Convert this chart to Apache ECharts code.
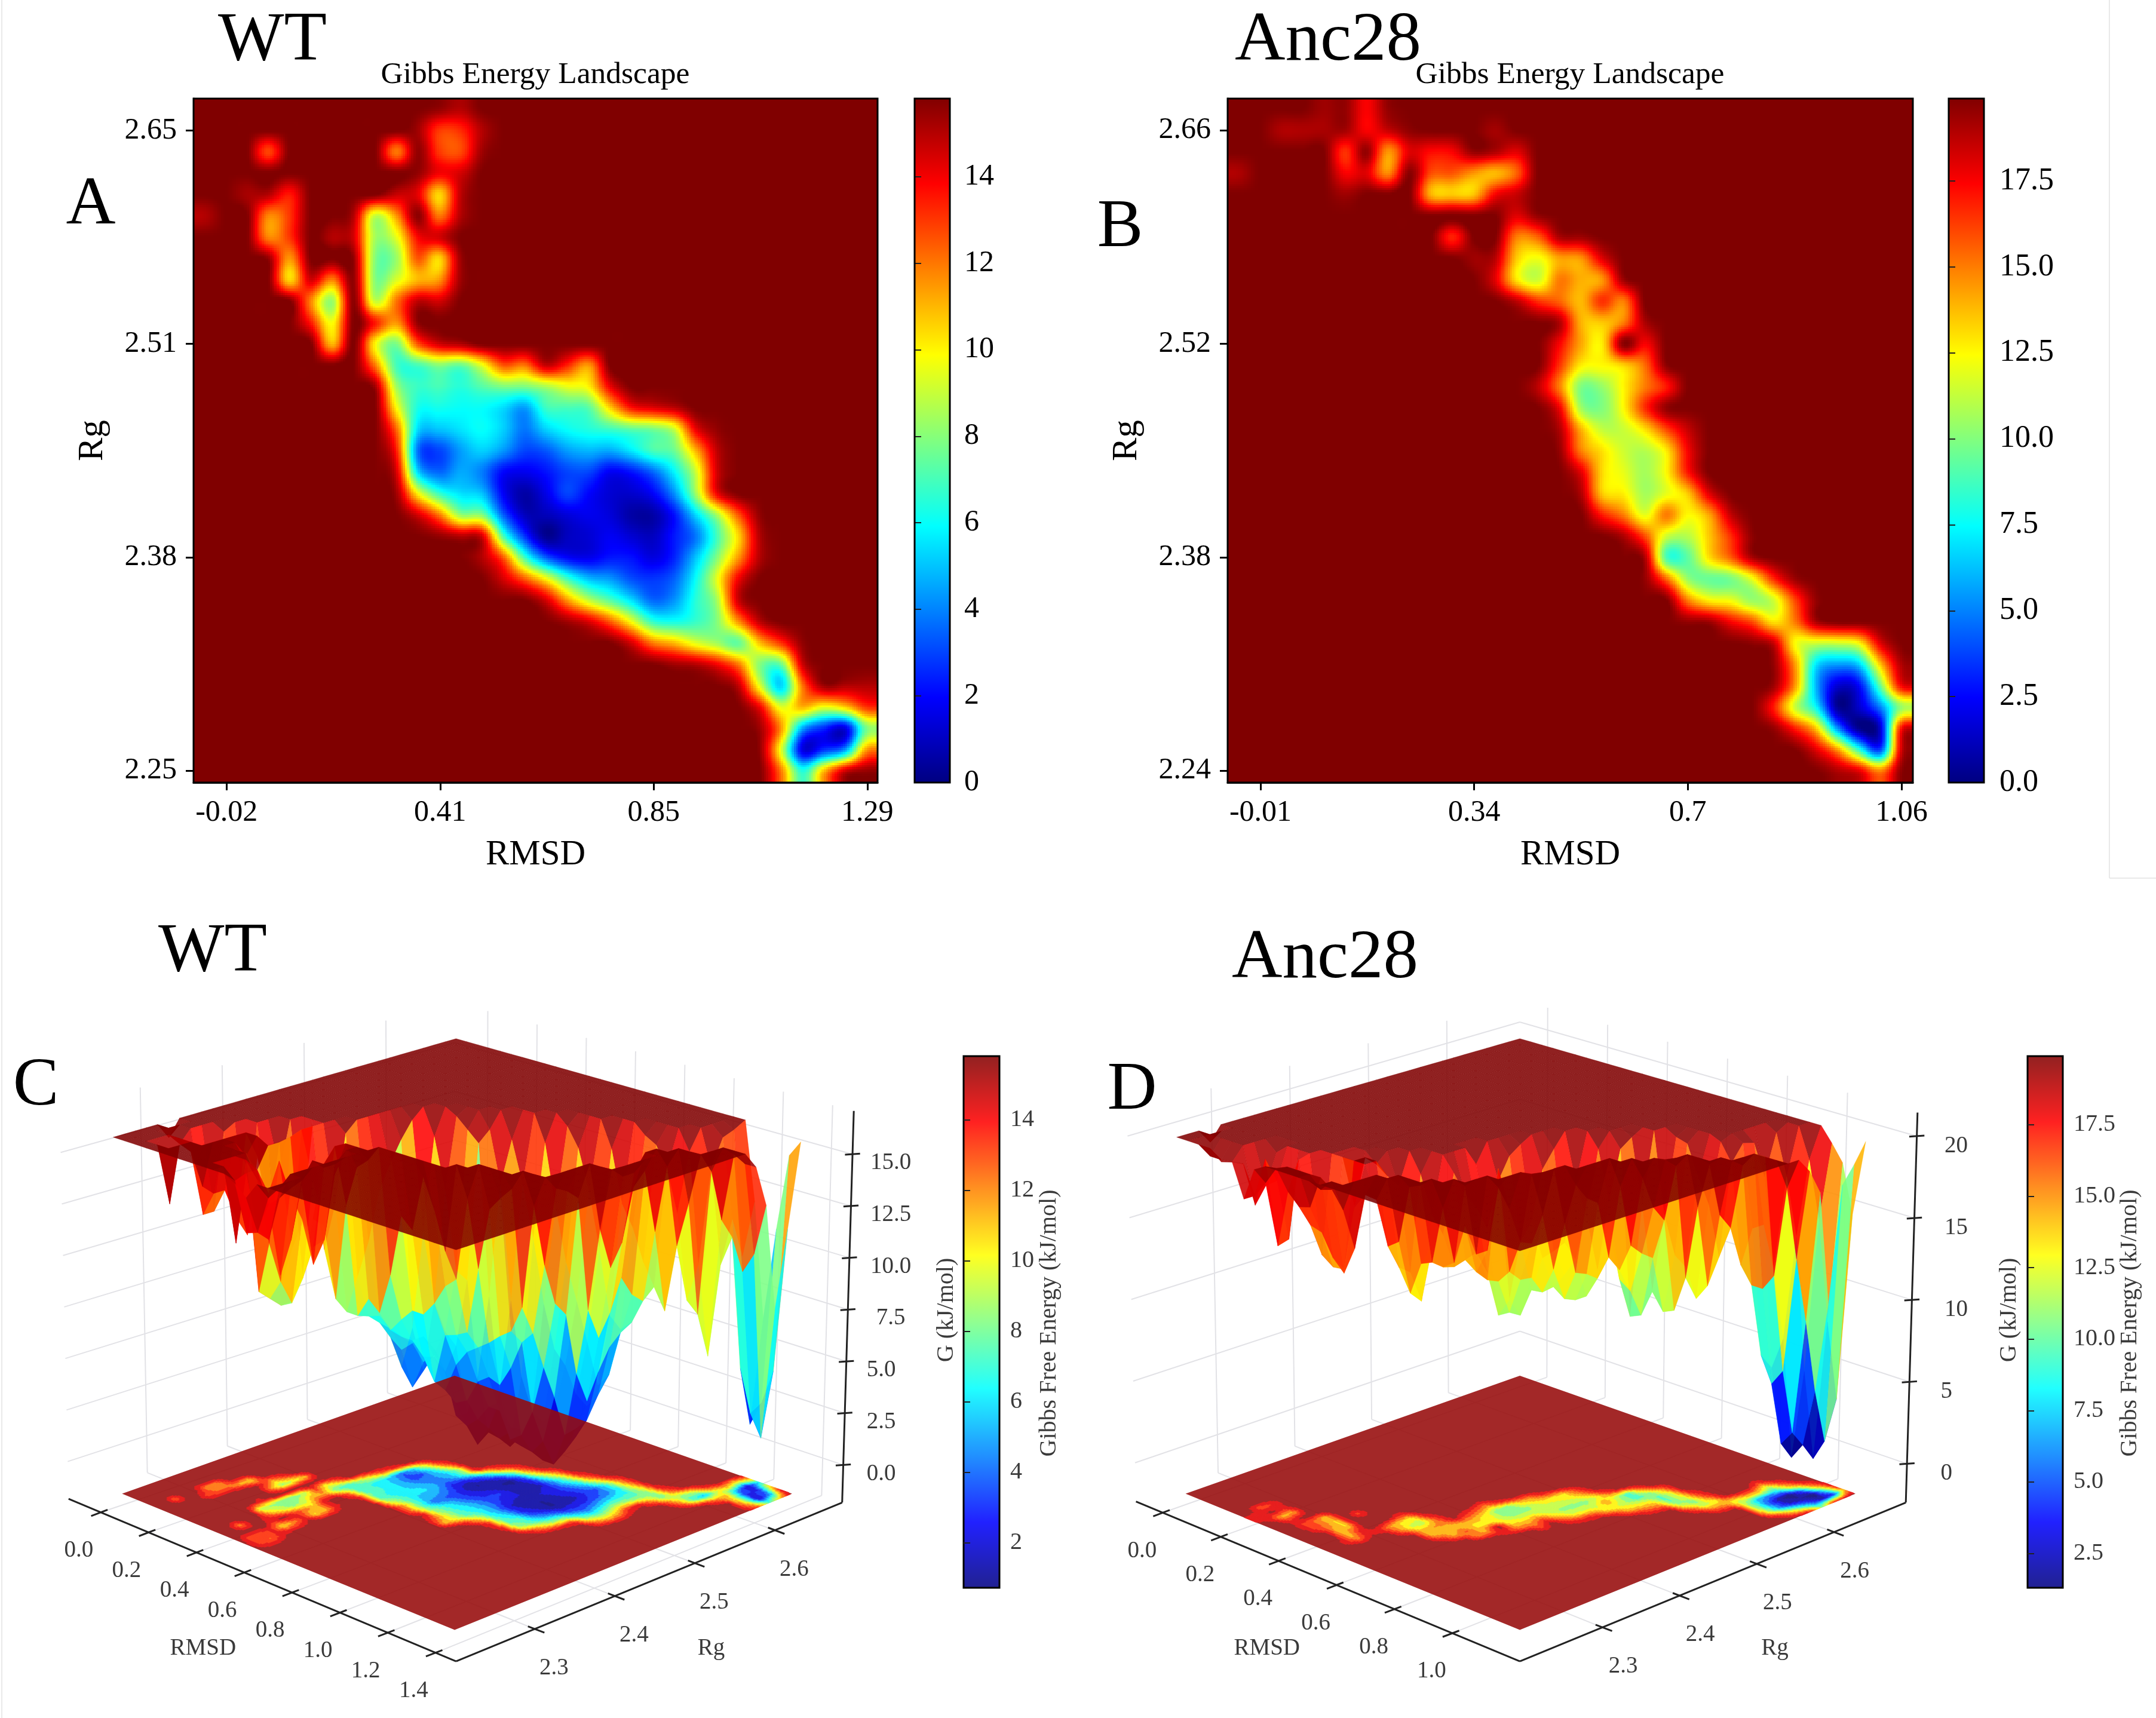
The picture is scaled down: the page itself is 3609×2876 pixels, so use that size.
<!DOCTYPE html>
<html>
<head>
<meta charset="utf-8">
<style>html,body{margin:0;padding:0;background:#fff}#chart{width:3609px;height:2876px}</style>
<script src="https://cdn.jsdelivr.net/npm/echarts@6/dist/echarts.min.js"></script>
</head>
<body>
<div id="chart"></div>
<script>
// Free-energy values per RMSD/Rg bin. Each entry is one Rg row (highest Rg first),
// keyed by RMSD column; bins that are not listed sit at the saturation cap.
const GRID_SIZE = 32;
const wtCap = 15.8;
const ancCap = 19.9;
const wtRows = [
  {11:15.5,12:15},
  {10:15.3,11:13,12:13.2,13:15},
  {3:12.8,9:12,10:15.5,11:13,12:12.7,13:15.3},
  {10:15.5,11:14,12:14.5},
  {2:15.2,3:15,4:13.5,9:14.7,10:14.2,11:10.5,12:14.8},
  {0:15,3:11.8,4:13,7:15,8:9,9:11.5,10:15.6,11:12,12:15},
  {3:11.8,4:13,6:15,7:14.5,8:8.5,9:9.5,10:13.8,11:14.5},
  {3:15.5,4:11.5,7:15.5,8:8,9:8.3,10:12.5,11:10.5,12:15.3},
  {4:10.5,5:14.5,6:11.8,7:15.5,8:8,9:9.3,10:11,11:11.5,12:15.3},
  {5:11.8,6:8.3,7:15.6,8:9,9:12,10:14.8,11:14.5},
  {5:13.5,6:9.8,8:13.5,9:11.5,10:15.5},
  {6:11,8:10,9:7.8,10:12.5,11:14.5,12:15},
  {8:12,9:7,10:7,11:8,12:7.5,13:9.5,14:12.5,15:12,16:14.7,17:13.3,18:11.5},
  {8:15.3,9:8.5,10:6.8,11:7,12:6.5,13:7.2,14:7.8,15:7.8,16:8.5,17:9.5,18:10,19:14},
  {9:10,10:6.3,11:6.2,12:6,13:6,14:5.4,15:4.4,16:6.8,17:7,18:7.3,19:10.5,20:13.5,21:14.2,22:14.8},
  {9:12.3,10:5.4,11:5,12:5.5,13:6,14:5.2,15:3.8,16:5.2,17:6,18:6.4,19:6.8,20:7.3,21:7.7,22:9,23:14,24:15.5},
  {9:13.5,10:3.8,11:3,12:4.4,13:5.2,14:4.3,15:3,16:3.3,17:4.4,18:4.8,19:4.6,20:5.6,21:7,22:7.6,23:11,24:14.8},
  {9:14.5,10:5.5,11:3.6,12:4.6,13:3.9,14:2,15:1.7,16:2.2,17:3,18:3,19:1.8,20:2.2,21:3.5,22:5.8,23:9,24:14.5},
  {9:15.3,10:10,11:6.8,12:5.5,13:5,14:1.9,15:0.6,16:1.6,17:3,18:2,19:1.3,20:1.2,21:1.9,22:4.2,23:8.3,24:14},
  {10:14.5,11:12,12:8.3,13:8,14:3.5,15:1,16:0.9,17:1.4,18:1.7,19:1.4,20:0.6,21:0.6,22:2.2,23:5.3,24:8.5,25:12.5,26:15.5},
  {11:15.5,12:15,13:14.5,14:7.2,15:2.8,16:0.3,17:1,18:1.3,19:1.8,20:1.3,21:1,22:2.3,23:3.8,24:7,25:10.5,26:15},
  {13:15,14:12.5,15:7,16:3.5,17:2,18:1.7,19:2.3,20:2.2,21:1.5,22:2.5,23:5,24:8,25:11.5,26:15},
  {14:14.5,15:12.5,16:10,17:7,18:5,19:4.4,20:3.2,21:2.8,22:3.5,23:6,24:9.5,25:14},
  {16:14.5,17:11.5,18:9,19:7.3,20:5.5,21:3.6,22:4.3,23:6.5,24:8.5,25:14.6},
  {17:15.3,18:14.4,19:12.5,20:9.8,21:6.8,22:6.3,23:6.8,24:8,25:11.5,26:14.8},
  {20:14.5,21:12,22:11,23:9.5,24:8.5,25:7.5,26:10.8,27:13,28:15.5},
  {22:15.3,23:15,24:14,25:12,26:8,27:7.5,28:14.5},
  {25:14.8,26:9.5,27:5.3,28:12,29:15.3,30:15,31:15},
  {26:14,27:9.5,28:11,29:9.5,30:10.5,31:13},
  {26:15.3,27:11.5,28:4.5,29:2.5,30:1.5,31:7.8},
  {26:15.5,27:9.5,28:1.6,29:2.8,30:4.5,31:11.5},
  {27:12,28:6.5,29:11,30:14.7,31:15.5}
];
const ancRows = [
  {4:19.3,5:19.5,6:17.5,7:19.5},
  {2:19,3:19,4:19.1,5:19.2,6:17.5,7:18.5,8:19.6,12:19.2},
  {5:16.5,6:19.5,7:14.5,8:18,9:17.3,10:17.5,11:19.5,12:19,13:18},
  {0:19,5:17.5,6:18,7:14.7,8:19.7,9:16,10:15.8,11:14.5,12:13.8,13:15.5},
  {5:19.3,9:14,10:13.5,11:13.6,12:17.5,13:18.5},
  {13:18,14:19.5},
  {10:16.8,13:15,14:15.5,15:19,16:19.3},
  {11:19.3,12:18.8,13:13.5,14:12.2,15:14.2,16:14.5,17:18},
  {12:18,13:13,14:11.5,15:15,16:14,17:14.5,18:19.3},
  {13:18.7,14:16.5,15:15.5,16:13.8,17:16.5,18:15},
  {15:19,16:14,17:13.5,18:15,19:19},
  {15:17.5,16:14.2,17:12.8,18:19.7,19:17.5},
  {15:16.5,16:12.8,17:12.5,18:13.3,19:15.3,20:19.6},
  {14:18.7,15:15,16:10,17:10.4,18:12.6,19:15,20:17},
  {15:17.7,16:10.7,17:10,18:12.5,19:16.5,20:19.5},
  {15:19,16:14,17:11.3,18:11.4,19:13,20:16,21:18.5},
  {15:19.5,16:15,17:13,18:11.5,19:11,20:12.8,21:17.5},
  {16:18,17:13.2,18:12,19:10.7,20:12.5,21:17},
  {16:19,17:13.5,18:12.7,19:10.7,20:12,21:13.5,22:18},
  {17:17,18:15,19:12,20:15,21:12.5,22:14.2,23:18.5},
  {18:19,19:16,20:11.5,21:11,22:13.5,23:16.5,24:19.6},
  {19:19,20:9,21:9.3,22:13,23:15.5,24:19},
  {19:19.5,20:15.5,21:10.5,22:9.5,23:9.8,24:12,25:16.5,26:19.3},
  {21:15,22:12.7,23:12.2,24:10.5,25:11.5,26:16,27:19.5},
  {21:19.5,22:19.3,23:17.5,24:16,25:13,26:15,27:19},
  {24:19.6,25:18.5,26:12.5,27:11.5,28:11.5,29:12.5,30:18},
  {25:19.5,26:14.5,27:7,28:5.5,29:6.5,30:13.5,31:19},
  {25:19.3,26:14.5,27:6,28:1.6,29:2.5,30:9.5,31:17.5},
  {25:17,26:11.5,27:7.5,28:0.5,29:1.5,30:5,31:10.5},
  {25:19.5,26:17,27:13.5,28:5.5,29:0.4,30:1.7,31:17.5},
  {27:18,28:14.5,29:8.5,30:4,31:18.5},
  {28:19,29:18,30:15,31:19.7}
];

// Axis ticks of the flat maps (tick values are truncated to two decimals when printed)
const wtRmsdTicks = [-0.02, 0.4167, 0.8533, 1.29];
const wtRgTicks = [2.25, 2.3833, 2.5167, 2.65];
const ancRmsdTicks = [-0.01, 0.3467, 0.7033, 1.06];
const ancRgTicks = [2.24, 2.38, 2.52, 2.66];
const wtBarTicks = [0, 2, 4, 6, 8, 10, 12, 14];
const ancBarTicks = [0, 2.5, 5, 7.5, 10, 12.5, 15, 17.5];

// Axis ticks of the perspective views
const wtRmsd3d = [0, 0.2, 0.4, 0.6, 0.8, 1.0, 1.2, 1.4];
const ancRmsd3d = [0, 0.2, 0.4, 0.6, 0.8, 1.0];
const rg3d = [2.3, 2.4, 2.5, 2.6];
const wtG3d = [0, 2.5, 5, 7.5, 10, 12.5, 15];
const ancG3d = [0, 5, 10, 15, 20];
const wtBar3d = [2, 4, 6, 8, 10, 12, 14];
const ancBar3d = [2.5, 5, 7.5, 10, 12.5, 15, 17.5];

const SERIF = '"Liberation Serif","Times New Roman",serif';
const SURFACE_ALPHA = 0.87;

function buildMatrix(rows, cap) {
  return rows.map(function (row) {
    const out = new Array(GRID_SIZE).fill(cap);
    Object.keys(row).forEach(function (c) { out[+c] = row[c]; });
    return out;
  });
}
const wtMatrix = buildMatrix(wtRows, wtCap);
const ancMatrix = buildMatrix(ancRows, ancCap);

// Matplotlib-style jet colormap
function jet(t) {
  t = Math.max(0, Math.min(1, t));
  const ch = function (v) { return Math.round(255 * Math.max(0, Math.min(1, v))); };
  return [
    ch(Math.min(4 * t - 1.5, -4 * t + 4.5)),
    ch(Math.min(4 * t - 0.5, -4 * t + 3.5)),
    ch(Math.min(4 * t + 0.5, -4 * t + 2.5))
  ];
}
function rgb(c) { return 'rgb(' + c[0] + ',' + c[1] + ',' + c[2] + ')'; }
function rgba(c, a) { return 'rgba(' + c[0] + ',' + c[1] + ',' + c[2] + ',' + a + ')'; }
function fade(c, a) {
  return [0, 1, 2].map(function (i) { return Math.round(c[i] * a + 255 * (1 - a)); });
}
function gradient(alpha) {
  const stops = [];
  for (let i = 0; i <= 40; i++) {
    const t = i / 40;
    stops.push({ offset: 1 - t, color: rgb(fade(jet(t), alpha)) });
  }
  return new echarts.graphic.LinearGradient(0, 0, 0, 1, stops.reverse());
}

// Bicubic lookup between bin centres, the way an image is resampled for display
function cubic(a, b, c, d, t) {
  return b + 0.5 * t * (c - a + t * (2 * a - 5 * b + 4 * c - d + t * (3 * (b - c) + d - a)));
}
function at(m, r, c) {
  const R = Math.max(0, Math.min(GRID_SIZE - 1, r));
  const C = Math.max(0, Math.min(GRID_SIZE - 1, c));
  return m[R][C];
}
function bicubic(m, r, c) {
  const r0 = Math.floor(r), c0 = Math.floor(c), tr = r - r0, tc = c - c0;
  const col = [];
  for (let k = -1; k <= 2; k++) {
    col.push(cubic(at(m, r0 + k, c0 - 1), at(m, r0 + k, c0), at(m, r0 + k, c0 + 1), at(m, r0 + k, c0 + 2), tc));
  }
  return cubic(col[0], col[1], col[2], col[3], tr);
}
function bilinear(m, r, c) {
  const r0 = Math.floor(r), c0 = Math.floor(c), tr = r - r0, tc = c - c0;
  return (at(m, r0, c0) * (1 - tc) + at(m, r0, c0 + 1) * tc) * (1 - tr) +
         (at(m, r0 + 1, c0) * (1 - tc) + at(m, r0 + 1, c0 + 1) * tc) * tr;
}
function isFlat(m, cap, r, c, reach) {
  for (let i = -reach; i <= reach; i++) {
    for (let j = -reach; j <= reach; j++) {
      if (at(m, r + i, c + j) < cap) return false;
    }
  }
  return true;
}

// ---- flat energy maps -----------------------------------------------------
function heatSeries(gridIndex, m, cap, xr, yr) {
  const dx = (xr[1] - xr[0]) / GRID_SIZE, dy = (yr[1] - yr[0]) / GRID_SIZE;
  const data = [];
  for (let r = 0; r < GRID_SIZE; r++) {
    for (let c = 0; c < GRID_SIZE; c++) {
      data.push([xr[0] + (c + 0.5) * dx, yr[1] - (r + 0.5) * dy, m[r][c], c, r]);
    }
  }
  const SUB = 10;
  return {
    type: 'custom', xAxisIndex: gridIndex, yAxisIndex: gridIndex, data: data, silent: true,
    animation: false, progressive: 0, encode: { x: 0, y: 1 }, clip: true,
    renderItem: function (params, api) {
      const c = api.value(3), r = api.value(4);
      const tl = api.coord([xr[0] + c * dx, yr[1] - r * dy]);
      const br = api.coord([xr[0] + (c + 1) * dx, yr[1] - (r + 1) * dy]);
      if (isFlat(m, cap, r, c, 2)) {
        return { type: 'rect', shape: { x: Math.floor(tl[0]), y: Math.floor(tl[1]),
          width: Math.ceil(br[0]) - Math.floor(tl[0]), height: Math.ceil(br[1]) - Math.floor(tl[1]) },
          style: { fill: rgb(jet(1)) } };
      }
      const kids = [];
      const w = (br[0] - tl[0]) / SUB, h = (br[1] - tl[1]) / SUB;
      for (let i = 0; i < SUB; i++) {
        for (let j = 0; j < SUB; j++) {
          const v = bicubic(m, r + (i + 0.5) / SUB - 0.5, c + (j + 0.5) / SUB - 0.5);
          const x0 = Math.floor(tl[0] + j * w), y0 = Math.floor(tl[1] + i * h);
          const x1 = Math.ceil(tl[0] + (j + 1) * w), y1 = Math.ceil(tl[1] + (i + 1) * h);
          kids.push({ type: 'rect', shape: { x: x0, y: y0, width: x1 - x0, height: y1 - y0 },
            style: { fill: rgb(jet(v / cap)) } });
        }
      }
      return { type: 'group', children: kids };
    }
  };
}

function truncated(v) { return Math.floor(v * 100 + 1e-6) / 100; }
function tickText(v) { return String(truncated(v)); }
function fixed2(v) { return truncated(v).toFixed(2); }

function axesFor(box, xr, yr, xt, yt) {
  const g = { left: box[0], top: box[1], width: box[2], height: box[3], show: false };
  const lineStyle = { color: '#000', width: 3 };
  const x = {
    type: 'value', min: xr[0], max: xr[1], splitLine: { show: false },
    name: 'RMSD', nameLocation: 'middle', nameGap: 92, nameMoveOverlap: false,
    nameTextStyle: { fontFamily: SERIF, fontSize: 59, color: '#000' },
    axisLine: { show: true, lineStyle: lineStyle, onZero: false },
    axisTick: { show: true, length: 13, lineStyle: lineStyle, customValues: xt },
    axisLabel: { show: true, fontFamily: SERIF, fontSize: 50, color: '#000', margin: 26,
      customValues: xt, formatter: tickText, hideOverlap: false, showMinLabel: true, showMaxLabel: true }
  };
  const y = {
    type: 'value', min: yr[0], max: yr[1], splitLine: { show: false },
    name: 'Rg', nameLocation: 'middle', nameGap: 139, nameMoveOverlap: false,
    nameTextStyle: { fontFamily: SERIF, fontSize: 59, color: '#000' },
    axisLine: { show: true, lineStyle: lineStyle, onZero: false },
    axisTick: { show: true, length: 13, lineStyle: lineStyle, customValues: yt },
    axisLabel: { show: true, fontFamily: SERIF, fontSize: 50, color: '#000', margin: 28, padding: [6, 0, 0, 0],
      customValues: yt, formatter: fixed2, hideOverlap: false, showMinLabel: true, showMaxLabel: true }
  };
  return { grid: g, x: x, y: y };
}

function colorBar(box, lo, hi, ticks, fmt, alpha, fontSize, labelColor, width, margin) {
  return {
    grid: { left: box[0], top: box[1], width: box[2], height: box[3], show: true,
      backgroundColor: gradient(alpha), borderColor: '#000', borderWidth: width },
    x: { type: 'value', min: 0, max: 1, show: false },
    y: { type: 'value', min: lo, max: hi, position: 'right', splitLine: { show: false },
      axisLine: { show: false },
      axisTick: { show: true, length: 11, lineStyle: { color: '#222', width: 2 }, customValues: ticks },
      axisLabel: { show: true, fontFamily: SERIF, fontSize: fontSize, color: labelColor, margin: margin,
        padding: [4, 0, 0, 0], customValues: ticks, formatter: fmt, hideOverlap: false } }
  };
}

// ---- perspective views ----------------------------------------------------
function lerp(a, b, t) { return [a[0] + (b[0] - a[0]) * t, a[1] + (b[1] - a[1]) * t]; }
function quadPoint(q, u, v) {
  return lerp(lerp(q.L, q.B, u), lerp(q.T, q.R, u), v);
}

const viewC = {
  ox: 0, sx: 1800 / 1568, sy: 1376 / 1568, oy: 1500,
  cap: wtCap, m: wtMatrix, barLo: 0.73,
  floorZ: -1.4,
  floor: { L: [178, 1140], B: [663, 1400], T: [663, 915], R: [1155, 1140] },
  top: { L: [165, 460], B: [665, 675], T: [665, 272], R: [1168, 457] },
  boxLow: { L: [100, 1150], B: [665, 1460], T: [663, 905], R: [1228, 1157] },
  boxHigh: { L: [87, 407], T: [663, 202], R: [1245, 410] },
  zToH: function (z) { return 0.096 + z * 0.0529; },
  rmsdFrac: function (x) { return 0.083 + x / 1.4 * 0.864; },
  rgFrac: function (x) { return 0.204 + (x - 2.3) * 2.073; },
  rmsdTicks: wtRmsd3d, zTicks: wtG3d, zFmt: function (v) { return v.toFixed(1); },
  rmsdOff: [-32, 73], rgOff: [28, 75], zLabelX: 1293, zLabelDy: 17,
  rmsdTitle: [296, 1436], rgTitle: [1037, 1436]
};
const viewD = {
  ox: 1800, sx: 1809 / 1568, sy: 1376 / 1568, oy: 1500,
  cap: ancCap, m: ancMatrix, barLo: 1.3,
  floorZ: -1.8,
  floor: { L: [160, 1140], B: [645, 1400], T: [645, 915], R: [1132, 1140] },
  top: { L: [147, 460], B: [645, 677], T: [645, 272], R: [1147, 462] },
  boxLow: { L: [88, 1155], B: [645, 1460], T: [645, 900], R: [1205, 1157] },
  boxHigh: { L: [75, 413], T: [645, 198], R: [1222, 413] },
  zToH: function (z) { return 0.0995 + z * 0.042; },
  rmsdFrac: function (x) { return 0.07 + x * 0.754; },
  rgFrac: function (x) { return 0.214 + (x - 2.3) * 2.0; },
  rmsdTicks: ancRmsd3d, zTicks: ancG3d, zFmt: function (v) { return String(v); },
  rmsdOff: [-30, 73], rgOff: [30, 75], zLabelX: 1272, zLabelDy: 19,
  rmsdTitle: [278, 1436], rgTitle: [1015, 1436]
};
function toPage(view, p) { return [view.ox + p[0] * view.sx, view.oy + p[1] * view.sy]; }

function surfacePoint(view, r, c, z) {
  const u = c / (GRID_SIZE - 1), v = r / (GRID_SIZE - 1);
  const low = quadPoint(view.floor, u, v), high = quadPoint(view.top, u, v);
  const h = (z - view.floorZ) / (view.cap - view.floorZ);
  return toPage(view, lerp(low, high, h));
}

// Back walls and floor guide lines
function wallSeries(view) {
  const data = [];
  const bl = view.boxLow, bh = view.boxHigh;
  view.zTicks.forEach(function (z) { data.push([0, z]); });
  rg3d.forEach(function (v) { data.push([1, v]); });
  view.rmsdTicks.forEach(function (v) { data.push([2, v]); });
  const style = { stroke: '#e2e2e6', lineWidth: 2, fill: 'none' };
  function seg(a, b) {
    const A = toPage(view, a), B = toPage(view, b);
    return { type: 'line', shape: { x1: A[0], y1: A[1], x2: B[0], y2: B[1] }, style: style };
  }
  return {
    type: 'custom', coordinateSystem: 'none', data: data, silent: true, animation: false, progressive: 0,
    renderItem: function (params, api) {
      const kind = api.value(0), v = api.value(1);
      if (kind === 0) {
        const h = view.zToH(v);
        const L = lerp(bl.L, bh.L, h), T = lerp(bl.T, bh.T, h), R = lerp(bl.R, bh.R, h);
        return { type: 'group', children: [seg(L, T), seg(T, R)] };
      }
      if (kind === 1) {
        const f = view.rgFrac(v);
        return { type: 'group', children: [
          seg(lerp(bl.L, bl.T, f), lerp(bh.L, bh.T, f)),
          seg(lerp(bl.B, bl.R, f), lerp(bl.L, bl.T, f))
        ] };
      }
      const f = view.rmsdFrac(v);
      return { type: 'group', children: [
        seg(lerp(bl.T, bl.R, f), lerp(bh.T, bh.R, f)),
        seg(lerp(bl.L, bl.B, f), lerp(bl.T, bl.R, f))
      ] };
    }
  };
}

// Surface facets, far ones first so nearer facets paint over them
function surfaceSeries(view) {
  const m = view.m, data = [];
  for (let r = 0; r < GRID_SIZE - 1; r++) {
    for (let c = 0; c < GRID_SIZE - 1; c++) {
      const mean = (m[r][c] + m[r][c + 1] + m[r + 1][c] + m[r + 1][c + 1]) / 4;
      data.push([r, c, mean]);
    }
  }
  data.sort(function (a, b) { return (a[1] - a[0]) - (b[1] - b[0]); });
  return {
    type: 'custom', coordinateSystem: 'none', data: data, silent: true, animation: false, progressive: 0,
    renderItem: function (params, api) {
      const r = api.value(0), c = api.value(1), mean = api.value(2);
      const pts = [
        surfacePoint(view, r, c, m[r][c]),
        surfacePoint(view, r, c + 1, m[r][c + 1]),
        surfacePoint(view, r + 1, c + 1, m[r + 1][c + 1]),
        surfacePoint(view, r + 1, c, m[r + 1][c])
      ];
      const t = (mean - view.barLo) / (view.cap - view.barLo);
      const fill = rgba(jet(t), SURFACE_ALPHA);
      // A hairline of the facet colour closes the seams between neighbouring facets
      return { type: 'polygon', shape: { points: pts }, style: { fill: fill, stroke: fill, lineWidth: 0.35 } };
    }
  };
}

// Filled contours projected on the floor, drawn over the surface
function floorSeries(view) {
  const m = view.m, data = [[-1, -1, view.cap]];
  for (let r = 0; r < GRID_SIZE - 1; r++) {
    for (let c = 0; c < GRID_SIZE - 1; c++) {
      if (m[r][c] < view.cap || m[r][c + 1] < view.cap || m[r + 1][c] < view.cap || m[r + 1][c + 1] < view.cap) {
        data.push([r, c, m[r][c]]);
      }
    }
  }
  const SUB = 7, LEVELS = 15;
  const step = (view.cap - view.barLo) / LEVELS;
  function fp(r, c) {
    return toPage(view, quadPoint(view.floor, c / (GRID_SIZE - 1), r / (GRID_SIZE - 1)));
  }
  return {
    type: 'custom', coordinateSystem: 'none', data: data, silent: true, animation: false, progressive: 0,
    renderItem: function (params, api) {
      const r = api.value(0), c = api.value(1);
      if (r < 0) {
        const g = GRID_SIZE - 1;
        return { type: 'polygon', shape: { points: [fp(0, 0), fp(0, g), fp(g, g), fp(g, 0)] },
          style: { fill: 'rgba(150,10,10,0.88)' } };
      }
      const kids = [];
      for (let i = 0; i < SUB; i++) {
        for (let j = 0; j < SUB; j++) {
          const v = bilinear(m, r + (i + 0.5) / SUB, c + (j + 0.5) / SUB);
          if (v >= view.cap - step) continue;
          const t = (Math.floor((v - view.barLo) / step) + 0.5) * step / (view.cap - view.barLo);
          const col = rgb(fade(jet(t), 0.88));
          kids.push({ type: 'polygon', shape: { points: [
            fp(r + i / SUB, c + j / SUB), fp(r + i / SUB, c + (j + 1) / SUB),
            fp(r + (i + 1) / SUB, c + (j + 1) / SUB), fp(r + (i + 1) / SUB, c + j / SUB)
          ] }, style: { fill: col, stroke: col, lineWidth: 0.8 } });
        }
      }
      return { type: 'group', children: kids };
    }
  };
}

// Axis lines, tick marks and their labels
function axisSeries(view) {
  const bl = view.boxLow, bh = view.boxHigh;
  const data = [[3, 0]];
  view.rmsdTicks.forEach(function (v) { data.push([0, v]); });
  rg3d.forEach(function (v) { data.push([1, v]); });
  view.zTicks.forEach(function (v) { data.push([2, v]); });
  const line = { stroke: '#222', lineWidth: 3, fill: 'none' };
  const font = '39px ' + SERIF;
  function seg(a, b) {
    const A = toPage(view, a), B = toPage(view, b);
    return { type: 'line', shape: { x1: A[0], y1: A[1], x2: B[0], y2: B[1] }, style: line };
  }
  function label(p, s) {
    const P = toPage(view, p);
    return { type: 'text', style: { x: P[0], y: P[1], text: s, font: font, fill: '#3a3a3a',
      align: 'center', verticalAlign: 'middle', textAlign: 'center', textVerticalAlign: 'middle' } };
  }
  return {
    type: 'custom', coordinateSystem: 'none', data: data, silent: true, animation: false, progressive: 0,
    renderItem: function (params, api) {
      const kind = api.value(0), v = api.value(1);
      if (kind === 3) {
        return { type: 'group', children: [
          seg(bl.L, bl.B), seg(bl.B, bl.R), seg(bl.R, bh.R),
          label(view.rmsdTitle, 'RMSD'), label(view.rgTitle, 'Rg')
        ] };
      }
      if (kind === 0) {
        const p = lerp(bl.L, bl.B, view.rmsdFrac(v));
        return { type: 'group', children: [
          seg([p[0] - 14, p[1] + 7], [p[0] + 10, p[1] - 5]),
          label([p[0] + view.rmsdOff[0], p[1] + view.rmsdOff[1]], v.toFixed(1))
        ] };
      }
      if (kind === 1) {
        const p = lerp(bl.B, bl.R, view.rgFrac(v));
        return { type: 'group', children: [
          seg([p[0] - 10, p[1] - 5], [p[0] + 14, p[1] + 7]),
          label([p[0] + view.rgOff[0], p[1] + view.rgOff[1]], v.toFixed(1))
        ] };
      }
      const p = lerp(bl.R, bh.R, view.zToH(v));
      return { type: 'group', children: [
        seg([p[0] - 11, p[1] + 1], [p[0] + 11, p[1] - 1]),
        label([view.zLabelX + (p[1] > 800 ? -8 : 6), p[1] + view.zLabelDy], view.zFmt(v))
      ] };
    }
  };
}

// ---- layout ---------------------------------------------------------------
const wtX = [-0.0875, 1.311], wtY = [2.2425, 2.670];
const ancX = [-0.0648, 1.079], ancY = [2.2322, 2.6808];
const panels = [
  axesFor([324, 165, 1145, 1145], wtX, wtY, wtRmsdTicks, wtRgTicks),
  axesFor([2055, 165, 1147, 1145], ancX, ancY, ancRmsdTicks, ancRgTicks),
  colorBar([1531, 165, 59, 1145], 0, wtCap, wtBarTicks, function (v) { return String(v); }, 1, 50, '#000', 2, 24),
  colorBar([3262, 165, 59, 1145], 0, ancCap, ancBarTicks, function (v) { return v.toFixed(1); }, 1, 52, '#000', 2, 26),
  colorBar([1613, 1768, 60, 890], 0.73, wtCap, wtBar3d, function (v) { return String(v); }, SURFACE_ALPHA, 40, '#3a3a3a', 3, 18),
  colorBar([3394, 1768, 59, 890], 1.3, ancCap, ancBar3d, function (v) { return v.toFixed(1); }, SURFACE_ALPHA, 40, '#3a3a3a', 3, 18)
];
const grids = [], xAxes = [], yAxes = [];
panels.forEach(function (p, i) {
  grids.push(p.grid);
  p.x.gridIndex = i; p.y.gridIndex = i;
  xAxes.push(p.x); yAxes.push(p.y);
});

function text(str, x, y, size, color, rotation) {
  return { type: 'text', x: x, y: y, rotation: rotation || 0, z: 20, silent: true,
    style: { text: str, font: size + 'px ' + SERIF, fill: color || '#000',
      align: 'center', verticalAlign: 'middle', textAlign: 'center', textVerticalAlign: 'middle' } };
}
function frame(x, y, w, h) {
  return { type: 'rect', z: 15, silent: true, shape: { x: x, y: y, width: w, height: h },
    style: { fill: 'none', stroke: '#000', lineWidth: 3 } };
}
function edge(x1, y1, x2, y2) {
  return { type: 'line', z: 1, silent: true, shape: { x1: x1, y1: y1, x2: x2, y2: y2 },
    style: { stroke: '#e9e9e9', lineWidth: 2 } };
}
const labels = [
  text('WT', 456, 69, 117), text('Anc28', 2223, 69, 117),
  text('A', 152, 344, 115), text('B', 1875, 382, 115),
  text('WT', 356, 1594, 117), text('Anc28', 2218, 1605, 117),
  text('C', 60, 1819, 115), text('D', 1895, 1826, 115),
  text('Gibbs Energy Landscape', 896, 125, 51.5), text('Gibbs Energy Landscape', 2628, 125, 51.5),
  text('G (kJ/mol)', 1584, 2193, 40, '#3a3a3a', Math.PI / 2),
  text('Gibbs Free Energy (kJ/mol)', 1756, 2215, 40, '#3a3a3a', Math.PI / 2),
  text('G (kJ/mol)', 3363, 2193, 40, '#3a3a3a', Math.PI / 2),
  text('Gibbs Free Energy (kJ/mol)', 3565, 2215, 40, '#3a3a3a', Math.PI / 2),
  frame(324, 165, 1145, 1145), frame(2055, 165, 1147, 1145),
  frame(1531, 165, 59, 1145), frame(3262, 165, 59, 1145),
  edge(3, 0, 3, 2876), edge(3531, 0, 3531, 1470), edge(3531, 1470, 3609, 1470)
];

const chart = echarts.init(document.getElementById('chart'), null, { renderer: 'canvas' });
chart.setOption({
  backgroundColor: '#fff',
  animation: false,
  grid: grids, xAxis: xAxes, yAxis: yAxes,
  graphic: { elements: labels },
  series: [
    heatSeries(0, wtMatrix, wtCap, wtX, wtY),
    heatSeries(1, ancMatrix, ancCap, ancX, ancY),
    wallSeries(viewC), surfaceSeries(viewC), floorSeries(viewC), axisSeries(viewC),
    wallSeries(viewD), surfaceSeries(viewD), floorSeries(viewD), axisSeries(viewD)
  ]
});
</script>
</body>
</html>
